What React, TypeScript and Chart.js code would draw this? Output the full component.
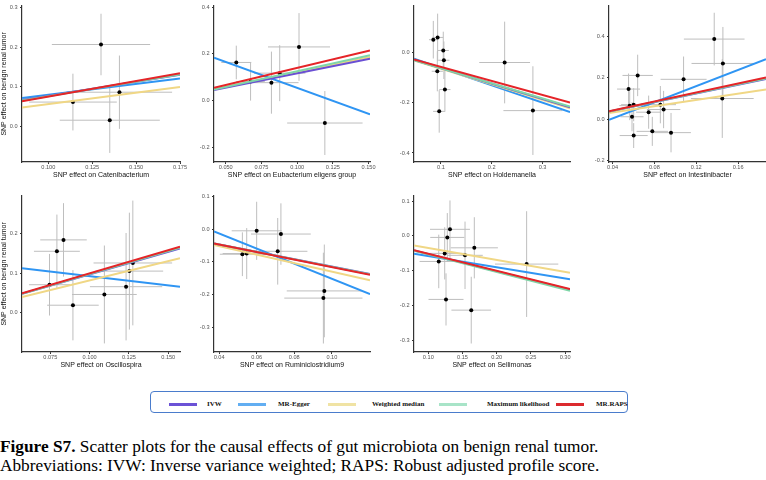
import React, { useEffect, useRef } from "react";
import { Chart, registerables } from "chart.js";
Chart.register(...registerables);

// ---------- methods ----------
const methods = ["IVW", "MR-Egger", "Weighted median", "Maximum likelihood", "MR.RAPS"];
const methodColors = ["#6a4fd4", "#2f95f3", "#f0d785", "#7fd6a8", "#e52428"];
const legendColors = ["#6b52d6", "#62aef2", "#f0e3a4", "#a8e4c8", "#dc2a2e"];
// drawing order (first = on top)
const drawOrder = [4, 3, 0, 2, 1];

// ---------- Catenibacterium ----------
const cateX = [0.130, 0.114, 0.1405, 0.135];
const cateY = [0.207, 0.061, 0.086, 0.015];
const cateXse = [0.028, 0.025, 0.030, 0.0285];
const cateYse = [0.078, 0.072, 0.093, 0.083];
const cateSlope = [0.711, 0.556, 0.578, 0.733, 0.789];
const cateIntercept = [0.0056, 0.0238, -0.0021, 0.0027, -0.0041];
const cateXRange = [0.085, 0.175];
const cateYRange = [-0.091, 0.305];
const cateXTicks = [0.1, 0.125, 0.15, 0.175];
const cateYTicks = [0, 0.1, 0.2, 0.3];

// ---------- Eubacterium eligens group ----------
const eubaX = [0.0574, 0.0674, 0.0820, 0.0878, 0.1013, 0.1194];
const eubaY = [0.1625, 0.081, 0.076, 0.1167, 0.229, -0.097];
const eubaXse = [0.0105, 0.010, 0.019, 0.018, 0.0217, 0.0264];
const eubaYse = [0.072, 0.082, 0.133, 0.12, 0.145, 0.137];
const eubaSlope = [1.231, -2.225, 1.264, 1.337, 1.465];
const eubaIntercept = [-0.0069, 0.276, -0.0048, -0.0089, -0.0072];
const eubaXRange = [0.0418, 0.151];
const eubaYRange = [-0.264, 0.405];
const eubaXTicks = [0.05, 0.075, 0.1, 0.125, 0.15];
const eubaYTicks = [-0.2, 0, 0.2, 0.4];

// ---------- Holdemanella ----------
const holdX = [0.085, 0.0935, 0.1046, 0.1058, 0.0929, 0.1078, 0.0966, 0.2254, 0.281];
const holdY = [0.052, 0.061, 0.009, -0.030, -0.074, -0.147, -0.234, -0.039, -0.231];
const holdXse = [0.0085, 0.011, 0.011, 0.011, 0.011, 0.011, 0.012, 0.050, 0.058];
const holdYse = [0.075, 0.095, 0.075, 0.075, 0.08, 0.085, 0.085, 0.163, 0.177];
const holdSlope = [-0.616, -0.696, -0.622, -0.601, -0.560];
const holdIntercept = [0.0, 0.0093, -0.0018, -0.0018, -0.0007];
const holdXRange = [0.047, 0.354];
const holdYRange = [-0.436, 0.187];
const holdXTicks = [0.1, 0.2, 0.3];
const holdYTicks = [-0.4, -0.2, 0];

// ---------- Intestinibacter ----------
const inteX = [0.0553, 0.0640, 0.0564, 0.0602, 0.0586, 0.0602, 0.0745, 0.0780, 0.0857, 0.0888, 0.0959, 0.1079, 0.1372, 0.1455, 0.1449];
const inteY = [0.1457, 0.2115, 0.0658, 0.0705, 0.0122, -0.0785, 0.0343, -0.0583, 0.0705, 0.047, -0.0644, 0.1927, 0.3868, 0.2693, 0.1001];
const inteXse = [0.011, 0.0145, 0.010, 0.012, 0.011, 0.0134, 0.012, 0.015, 0.015, 0.016, 0.019, 0.022, 0.029, 0.030, 0.030];
const inteYse = [0.075, 0.1, 0.07, 0.08, 0.07, 0.06, 0.08, 0.07, 0.09, 0.09, 0.095, 0.11, 0.127, 0.176, 0.19];
const inteSlope = [1.046, 1.945, 0.760, 1.066, 1.086];
const inteIntercept = [-0.0013, -0.0732, 0.0022, -0.002, -0.0007];
const inteXRange = [0.0366, 0.1867];
const inteYRange = [-0.206, 0.547];
const inteXTicks = [0.04, 0.08, 0.12, 0.16];
const inteYTicks = [-0.2, 0, 0.2, 0.4];

// ---------- Oscillospira ----------
const osciX = [0.0792, 0.0834, 0.0745, 0.0894, 0.1094, 0.1232, 0.1253, 0.1275];
const osciY = [0.1556, 0.1845, 0.0709, 0.019, 0.0462, 0.0659, 0.1054, 0.126];
const osciXse = [0.0146, 0.0148, 0.013, 0.0164, 0.0206, 0.023, 0.0215, 0.025];
const osciYse = [0.093, 0.093, 0.078, 0.089, 0.124, 0.136, 0.148, 0.158];
const osciSlope = [1.144, -0.467, 0.980, 1.164, 1.174];
const osciIntercept = [-0.0172, 0.1395, -0.0164, -0.0184, -0.0179];
const osciXRange = [0.057, 0.1575];
const osciYRange = [-0.0995, 0.296];
const osciXTicks = [0.075, 0.1, 0.125, 0.15];
const osciYTicks = [0, 0.1, 0.2];

// ---------- Ruminiclostridium9 ----------
const rumiX = [0.0524, 0.0547, 0.0600, 0.0729, 0.0712, 0.0960, 0.0955];
const rumiY = [-0.0767, -0.0746, -0.005, -0.0149, -0.0677, -0.189, -0.211];
const rumiXse = [0.012, 0.0128, 0.0133, 0.0159, 0.0158, 0.020, 0.0208];
const rumiYse = [0.067, 0.078, 0.089, 0.094, 0.102, 0.142, 0.139];
const rumiSlope = [-1.120, -2.314, -1.293, -1.133, -1.151];
const rumiIntercept = [-0.0022, 0.0794, -0.0005, -0.0017, -0.0009];
const rumiXRange = [0.0373, 0.1203];
const rumiYRange = [-0.376, 0.102];
const rumiXTicks = [0.04, 0.06, 0.08, 0.1];
const rumiYTicks = [-0.3, -0.2, -0.1, 0, 0.1];

// ---------- Sellimonas ----------
const selliX = [0.1317, 0.1278, 0.124, 0.1537, 0.1673, 0.1153, 0.1259, 0.1628, 0.2438];
const selliY = [0.0188, -0.0045, -0.0504, -0.056, -0.0344, -0.0736, -0.1828, -0.2136, -0.0812];
const selliXse = [0.0292, 0.025, 0.03, 0.026, 0.0345, 0.028, 0.0256, 0.029, 0.0463];
const selliYse = [0.083, 0.07, 0.075, 0.097, 0.088, 0.077, 0.075, 0.096, 0.152];
const selliSlope = [-0.495, -0.3235, -0.3437, -0.504, -0.491];
const selliIntercept = [-0.0028, -0.0256, -0.0008, -0.0031, -0.0022];
const selliXRange = [0.0791, 0.3072];
const selliYRange = [-0.334, 0.115];
const selliXTicks = [0.1, 0.15, 0.2, 0.25, 0.3];
const selliYTicks = [-0.3, -0.2, -0.1, 0, 0.1];

const yTitle = "SNP effect on benign renal tumor";

const panels = [
  { xTitle: "SNP effect on Catenibacterium", x: cateX, y: cateY, xse: cateXse, yse: cateYse, slope: cateSlope, intercept: cateIntercept, xRange: cateXRange, yRange: cateYRange, xTicks: cateXTicks, yTicks: cateYTicks, xDec: 3, yDec: 1 },
  { xTitle: "SNP effect on Eubacterium eligens group", x: eubaX, y: eubaY, xse: eubaXse, yse: eubaYse, slope: eubaSlope, intercept: eubaIntercept, xRange: eubaXRange, yRange: eubaYRange, xTicks: eubaXTicks, yTicks: eubaYTicks, xDec: 3, yDec: 1 },
  { xTitle: "SNP effect on Holdemanella", x: holdX, y: holdY, xse: holdXse, yse: holdYse, slope: holdSlope, intercept: holdIntercept, xRange: holdXRange, yRange: holdYRange, xTicks: holdXTicks, yTicks: holdYTicks, xDec: 1, yDec: 1 },
  { xTitle: "SNP effect on Intestinibacter", x: inteX, y: inteY, xse: inteXse, yse: inteYse, slope: inteSlope, intercept: inteIntercept, xRange: inteXRange, yRange: inteYRange, xTicks: inteXTicks, yTicks: inteYTicks, xDec: 2, yDec: 1 },
  { xTitle: "SNP effect on Oscillospira", x: osciX, y: osciY, xse: osciXse, yse: osciYse, slope: osciSlope, intercept: osciIntercept, xRange: osciXRange, yRange: osciYRange, xTicks: osciXTicks, yTicks: osciYTicks, xDec: 3, yDec: 1 },
  { xTitle: "SNP effect on Ruminiclostridium9", x: rumiX, y: rumiY, xse: rumiXse, yse: rumiYse, slope: rumiSlope, intercept: rumiIntercept, xRange: rumiXRange, yRange: rumiYRange, xTicks: rumiXTicks, yTicks: rumiYTicks, xDec: 2, yDec: 1 },
  { xTitle: "SNP effect on Sellimonas", x: selliX, y: selliY, xse: selliXse, yse: selliYse, slope: selliSlope, intercept: selliIntercept, xRange: selliXRange, yRange: selliYRange, xTicks: selliXTicks, yTicks: selliYTicks, xDec: 2, yDec: 1 },
];

// ---------- layout ----------
const colGeom = [
  { axis: 22, right: 180, yw: 22 },
  { axis: 214, right: 370, yw: 20 },
  { axis: 414, right: 570, yw: 20 },
  { axis: 609, right: 766, yw: 20 },
];
const rowTops = [0, 190];
const PAD_TOP = 2;
const PAD_RIGHT = 14;
const X_AXIS_H = 18;
const PANEL_H = 180;
const SANS = "'Liberation Sans', Arial, sans-serif";
const SERIF = "'Liberation Serif', 'Times New Roman', serif";

function Panel({ cfg, col, row }: any) {
  const ref = useRef<HTMLCanvasElement | null>(null);
  const g = colGeom[col];
  const left = g.axis - g.yw;
  const width = g.right - left + PAD_RIGHT;
  const top = rowTops[row];
  const showYTitle = col === 0;

  useEffect(() => {
    if (!ref.current) return;
    const [xMin, xMax] = cfg.xRange;
    const lineSets = drawOrder.map((m) => ({
      label: methods[m],
      data: [xMin, xMax].map((xv: number) => ({ x: xv, y: cfg.intercept[m] + cfg.slope[m] * xv })),
      showLine: true,
      borderColor: methodColors[m],
      backgroundColor: methodColors[m],
      borderWidth: 2,
      pointRadius: 0,
      fill: false,
    }));
    const pointSet = {
      label: "SNPs",
      data: cfg.x.map((xv: number, i: number) => ({ x: xv, y: cfg.y[i] })),
      showLine: false,
      pointRadius: 2,
      pointBackgroundColor: "#000",
      pointBorderWidth: 0,
    };
    const errorBars = {
      id: "errorBars",
      beforeDatasetsDraw(chart: any) {
        const { ctx, chartArea, scales } = chart;
        const xs = scales.x;
        const ys = scales.y;
        ctx.save();
        ctx.beginPath();
        ctx.rect(chartArea.left, chartArea.top, chartArea.right - chartArea.left, chartArea.bottom - chartArea.top);
        ctx.clip();
        ctx.strokeStyle = "#bebebe";
        ctx.lineWidth = 1;
        cfg.x.forEach((xv: number, i: number) => {
          const yv = cfg.y[i];
          const px = xs.getPixelForValue(xv);
          const py = ys.getPixelForValue(yv);
          ctx.beginPath();
          ctx.moveTo(px, ys.getPixelForValue(yv - cfg.yse[i]));
          ctx.lineTo(px, ys.getPixelForValue(yv + cfg.yse[i]));
          ctx.moveTo(xs.getPixelForValue(xv - cfg.xse[i]), py);
          ctx.lineTo(xs.getPixelForValue(xv + cfg.xse[i]), py);
          ctx.stroke();
        });
        ctx.restore();
      },
    };
    const axisCommon = {
      type: "linear",
      grid: { display: true, drawOnChartArea: false, drawTicks: true, tickLength: 2, color: "#333", lineWidth: 1 },
      border: { display: true, color: "#333", width: 1.2 },
    };
    const chart = new Chart(ref.current, {
      type: "scatter",
      data: { datasets: [...lineSets, pointSet] as any },
      plugins: [errorBars],
      options: {
        animation: false,
        responsive: false,
        devicePixelRatio: 1,
        events: [],
        layout: { autoPadding: false, padding: { top: PAD_TOP, right: PAD_RIGHT, left: 0, bottom: 0 } },
        plugins: { legend: { display: false }, tooltip: { enabled: false } },
        scales: {
          x: {
            ...axisCommon,
            position: "bottom",
            min: xMin,
            max: xMax,
            afterFit: (s: any) => { s.height = X_AXIS_H; },
            afterBuildTicks: (s: any) => { s.ticks = cfg.xTicks.map((v: number) => ({ value: v })); },
            ticks: {
              callback: (v: any) => Number(v).toFixed(cfg.xDec),
              font: { family: SANS, size: 5.6 },
              color: "#555",
              padding: 0,
              maxRotation: 0,
              autoSkip: false,
            },
            title: { display: true, text: cfg.xTitle, font: { family: SANS, size: 7 }, color: "#111", padding: { top: 0, bottom: 1 } },
          },
          y: {
            ...axisCommon,
            position: "left",
            min: cfg.yRange[0],
            max: cfg.yRange[1],
            afterFit: (s: any) => { s.width = g.yw; },
            afterBuildTicks: (s: any) => { s.ticks = cfg.yTicks.map((v: number) => ({ value: v })); },
            ticks: {
              callback: (v: any) => Number(v).toFixed(cfg.yDec),
              font: { family: SANS, size: 5.6 },
              color: "#555",
              padding: 2.5,
              autoSkip: false,
            },
            title: { display: showYTitle, text: yTitle, font: { family: SANS, size: 7 }, color: "#111", padding: { top: 0, bottom: 0 } },
          },
        },
      } as any,
    });
    return () => chart.destroy();
  }, []);

  return (
    <canvas
      ref={ref}
      width={width}
      height={PANEL_H}
      style={{ position: "absolute", left, top, width, height: PANEL_H }}
    />
  );
}

const legendSwatchX = [169, 238, 328, 439, 556];
const legendLabelX = [207, 278, 372, 487, 596];

export default function App() {
  return (
    <div style={{ position: "absolute", left: 0, top: 0, width: 766, height: 480, overflow: "hidden", background: "#fff" }}>
      {panels.map((cfg, i) => (
        <Panel key={i} cfg={cfg} col={i % 4} row={Math.floor(i / 4)} />
      ))}
      <div
        style={{
          position: "absolute", left: 150, top: 391, width: 478, height: 22,
          border: "1px solid #4a7ccc", borderRadius: 4, boxSizing: "border-box",
        }}
      />
      {methods.map((m, i) => (
        <React.Fragment key={m}>
          <div style={{ position: "absolute", left: legendSwatchX[i], top: 402.5, width: 28, height: 3, background: legendColors[i] }} />
          <div style={{ position: "absolute", left: legendLabelX[i], top: 399, fontFamily: SERIF, fontWeight: "bold", fontSize: 7, lineHeight: "10px", color: "#111", whiteSpace: "nowrap" }}>{m}</div>
        </React.Fragment>
      ))}
      <div style={{ position: "absolute", left: 0, top: 437, fontFamily: SERIF, fontSize: 17.3, lineHeight: "19px", color: "#000", whiteSpace: "nowrap" }}>
        <div><b>Figure S7.</b> Scatter plots for the causal effects of gut microbiota on benign renal tumor.</div>
        <div>Abbreviations: IVW: Inverse variance weighted; RAPS: Robust adjusted profile score.</div>
      </div>
    </div>
  );
}
